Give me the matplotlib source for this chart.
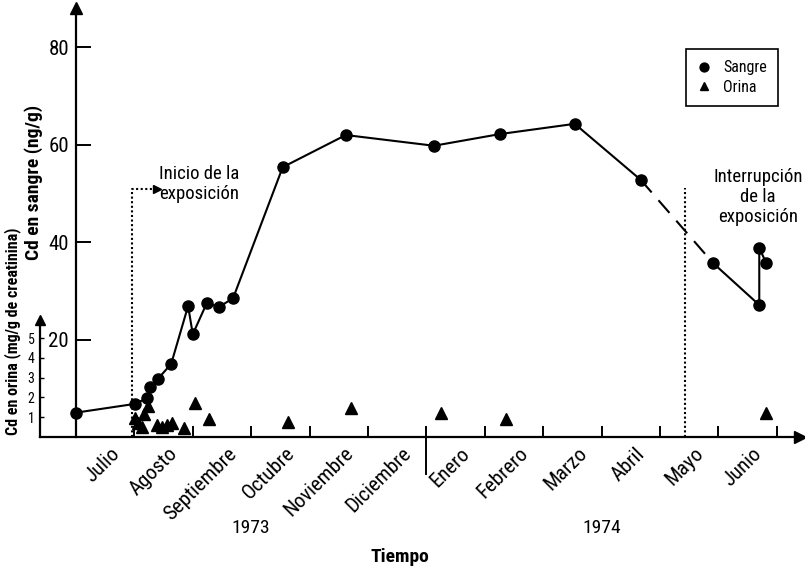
import matplotlib
matplotlib.use("Agg")
import matplotlib.pyplot as plt
from matplotlib import font_manager

# try to get a condensed face, like the original
fonts = font_manager.fontManager.ttflist
names = {f.name for f in fonts}
STRETCH = 'normal'
if 'Liberation Sans Narrow' in names:
    FONT = 'Liberation Sans Narrow'
elif 'Roboto Condensed' in names:
    FONT = 'Roboto Condensed'
elif any(f.name == 'DejaVu Sans' and f.stretch == 'condensed' for f in fonts):
    FONT = 'DejaVu Sans'
    STRETCH = 'condensed'
else:
    FONT = 'DejaVu Sans'
plt.rcParams['font.family'] = FONT
plt.rcParams['font.stretch'] = STRETCH
NARROW = STRETCH == 'condensed' or FONT != 'DejaVu Sans'
k = 1.0 if NARROW else 0.85   # shrink sizes when only the wide face exists

meses = ['Julio', 'Agosto', 'Septiembre', 'Octubre', 'Noviembre', 'Diciembre',
         'Enero', 'Febrero', 'Marzo', 'Abril', 'Mayo', 'Junio']
anios = ['1973', '1974']

# tiempo en meses desde 1 julio 1973
sangre_t = [0.00, 1.01, 1.22, 1.27, 1.40, 1.63, 1.92, 2.00, 2.24, 2.45, 2.69,
            3.54, 4.62, 6.13, 7.26, 8.54, 9.67, 10.91, 11.70, 11.70, 11.82]
sangre_v = [5.0, 6.8, 8.0, 10.3, 11.9, 15.0, 26.9, 21.1, 27.5, 26.7, 28.5,
            55.4, 62.0, 59.8, 62.2, 64.3, 52.8, 35.7, 27.1, 38.8, 35.7]

orina_t = [1.01, 1.06, 1.13, 1.16, 1.23, 1.39, 1.47, 1.56, 1.64, 1.85, 2.04,
           2.28, 3.63, 4.71, 6.25, 7.36, 11.82]
orina_v = [0.96, 0.71, 0.51, 1.16, 1.57, 0.61, 0.51, 0.61, 0.71, 0.45, 1.72,
           0.91, 0.76, 1.46, 1.21, 0.91, 1.21]

yticks_sangre = [20, 40, 60, 80]
yticks_orina = [1, 2, 3, 4, 5]

inicio_t = 0.96
interrupcion_t = 10.43
corte = 16  # ultimo punto solido antes del tramo discontinuo (abril)

fig = plt.figure(figsize=(8.05, 5.70), dpi=100)
rect = [40 / 805, 133 / 570, 765 / 805, 432 / 570]
ax = fig.add_axes(rect)
ax.set_xlim(-0.616, 12.483)
ax.set_ylim(0, 88.7)

for s in ['top', 'right']:
    ax.spines[s].set_visible(False)
ax.spines['left'].set_position(('data', 0))
ax.spines['left'].set_bounds(0, 88)
ax.spines['left'].set_linewidth(1.6)
ax.spines['bottom'].set_linewidth(1.6)
ax.spines['bottom'].set_bounds(-0.616, 12.4)
ax.plot(0, 88, '^k', ms=8, clip_on=False)
ax.plot(12.4, 0, '>k', ms=8, clip_on=False)

ax.set_yticks(yticks_sangre)
ax.tick_params(axis='y', direction='in', length=11, width=1.4,
               labelsize=15 * k, pad=5)

ax.set_xticks(range(13))
ax.set_xticklabels([])
ax.tick_params(axis='x', which='major', direction='in', length=8, width=1.4)
ax.set_xticks([i + 0.58 for i in range(12)], minor=True)
ax.set_xticklabels(meses, minor=True, rotation=45, ha='right', va='top',
                   rotation_mode='anchor', fontsize=15 * k)
ax.tick_params(axis='x', which='minor', length=0, pad=5)

# tick largo entre diciembre y enero
ax.plot([6, 6], [-0.086, 0.02], color='k', lw=1.4,
        transform=ax.get_xaxis_transform(), clip_on=False)

ax.text(3, -0.21, anios[0], transform=ax.get_xaxis_transform(),
        ha='center', va='center', fontsize=14 * k)
ax.text(9, -0.21, anios[1], transform=ax.get_xaxis_transform(),
        ha='center', va='center', fontsize=14 * k)
ax.text(5.55, -0.278, 'Tiempo', transform=ax.get_xaxis_transform(),
        ha='center', va='center', fontsize=14 * k, fontweight='bold')

ax.text(-0.72, 0.59, 'Cd en sangre (ng/g)', transform=ax.get_xaxis_transform(),
        rotation=90, ha='center', va='center', fontsize=14 * k, fontweight='bold')

# sangre
ax.plot(sangre_t[:corte + 1], sangre_v[:corte + 1], '-', color='k', lw=1.5)
ax.plot(sangre_t[corte:corte + 2], sangre_v[corte:corte + 2], color='k', lw=1.5,
        linestyle=(0, (8, 5)))
ax.plot(sangre_t[corte + 1:], sangre_v[corte + 1:], '-', color='k', lw=1.5)
h_sangre, = ax.plot(sangre_t, sangre_v, 'o', color='k', ms=8, linestyle='none',
                    label='Sangre')

# lineas de exposicion
y_flecha = 50.9
ax.plot([inicio_t, inicio_t, inicio_t + 0.38], [0, y_flecha, y_flecha],
        color='k', lw=1.5, linestyle=(0, (1, 1.2)))
ax.plot(inicio_t + 0.42, y_flecha, '>k', ms=6)
ax.text(inicio_t + 0.47, y_flecha + 1, 'Inicio de la\nexposición',
        fontsize=13.5 * k, ha='left', va='center', linespacing=1.15)

ax.plot([interrupcion_t, interrupcion_t], [0, 51.1], color='k', lw=1.5,
        linestyle=(0, (1, 1.2)))
ax.text(11.68, 49.3, 'Interrupción\nde la\nexposición', fontsize=13.5 * k,
        ha='center', va='center', linespacing=1.15)

# eje de orina
ax2 = fig.add_axes(rect)
ax2.patch.set_visible(False)
ax2.set_xlim(ax.get_xlim())
ax2.set_ylim(0, 432 / 19.8)
for s in ['top', 'right', 'bottom']:
    ax2.spines[s].set_visible(False)
ax2.spines['left'].set_bounds(0, 5.9)
ax2.spines['left'].set_linewidth(1.6)
ax2.plot(-0.616, 5.9, '^k', ms=7, clip_on=False)
ax2.set_xticks([])
ax2.set_yticks(yticks_orina)
ax2.tick_params(axis='y', direction='in', length=3, width=1, labelsize=10 * k,
                pad=4)
ax2.text(-1.08, 0.245, 'Cd en orina (mg/g de creatinina)',
         transform=ax2.get_xaxis_transform(), rotation=90, ha='center',
         va='center', fontsize=11.5 * k, fontweight='bold')
h_orina, = ax2.plot(orina_t, orina_v, '^', color='k', ms=8, linestyle='none',
                    label='Orina')

leg = fig.legend(handles=[h_sangre, h_orina], loc='upper right',
                 bbox_to_anchor=(778 / 805, 1 - 49 / 570), fontsize=11.5 * k,
                 frameon=True, fancybox=False, edgecolor='k', framealpha=1,
                 handlelength=0.8, handletextpad=0.8, borderpad=0.7,
                 labelspacing=0.3, markerscale=0.8, borderaxespad=0)
leg.get_frame().set_linewidth(1.2)

fig.savefig('out.png', dpi=100)
